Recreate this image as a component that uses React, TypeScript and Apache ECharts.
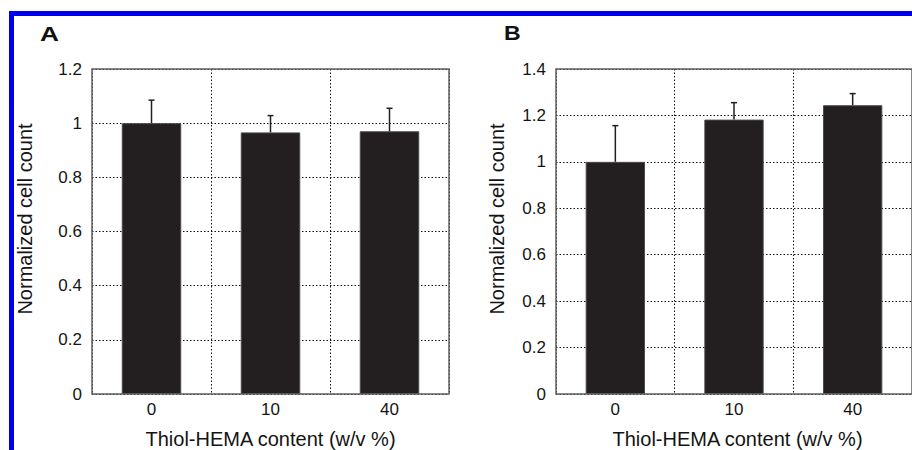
import React, { useEffect, useRef } from "react";
import * as echarts from "echarts";

const categories = ["0", "10", "40"];
const meanA = [1.0, 0.966, 0.97];
const errA = [0.085, 0.062, 0.085];
const meanB = [1.0, 1.182, 1.244];
const errB = [0.156, 0.073, 0.05];
const yMaxA = 1.2;
const yMaxB = 1.4;
const yStep = 0.2;
const xName = "Thiol-HEMA content (w/v %)";
const yName = "Normalized cell count";

const FONT = "'Liberation Sans', Arial, Helvetica, sans-serif";
const BAR = "#231f20";
const GRIDLINE = "#111";
const BORDER = "#5f5f5f";
const TEXT = "#141414";

export default function App() {
  const ref = useRef<HTMLDivElement>(null);
  useEffect(() => {
    if (!ref.current) return;
    const chart = echarts.init(ref.current, undefined, { renderer: "svg" });

    const grids = [
      { left: 92, top: 69, width: 357, height: 325 },
      { left: 556, top: 69, width: 363, height: 325 },
    ];

    const xAxisFor = (gi: number) => ({
      type: "category",
      gridIndex: gi,
      data: categories,
      axisLine: { show: false },
      axisTick: { show: false },
      axisLabel: { color: TEXT, fontFamily: FONT, fontSize: 17, margin: 7 },
      splitLine: { show: true, lineStyle: { color: GRIDLINE, type: [1.5, 2], width: 1 } },
    });
    const yAxisFor = (gi: number, max: number) => ({
      type: "value",
      gridIndex: gi,
      min: 0,
      max,
      interval: yStep,
      axisLine: { show: false },
      axisTick: { show: false },
      axisLabel: { color: TEXT, fontFamily: FONT, fontSize: 17, margin: 10 },
      splitLine: { show: true, lineStyle: { color: GRIDLINE, type: [1.5, 2], width: 1 } },
    });

    const errSeries = (gi: number, mean: number[], err: number[]) => ({
      type: "custom",
      xAxisIndex: gi,
      yAxisIndex: gi,
      z: 5,
      data: categories.map((_, i) => [i, mean[i], mean[i] + err[i]]),
      renderItem: (params: any, api: any) => {
        const i = api.value(0);
        const p0 = api.coord([i, api.value(1)]);
        const p1 = api.coord([i, api.value(2)]);
        const st = { stroke: BAR, lineWidth: 1.5 };
        return {
          type: "group",
          children: [
            { type: "line", shape: { x1: p0[0], y1: p0[1], x2: p1[0], y2: p1[1] }, style: st },
            { type: "line", shape: { x1: p1[0] - 3, y1: p1[1], x2: p1[0] + 3, y2: p1[1] }, style: st },
          ],
        };
      },
    });

    const barSeries = (gi: number, mean: number[]) => ({
      type: "bar",
      xAxisIndex: gi,
      yAxisIndex: gi,
      barWidth: "50%",
      data: mean,
      itemStyle: { color: BAR, borderColor: "#4d4b4b", borderWidth: 1 },
    });

    chart.setOption({
      animation: false,
      backgroundColor: "#ffffff",
      grid: grids.map((g) => ({
        ...g,
        show: true,
        borderColor: BORDER,
        borderWidth: 1.5,
        backgroundColor: "transparent",
        z: 4,
      })),
      xAxis: [xAxisFor(0), xAxisFor(1)],
      yAxis: [yAxisFor(0, yMaxA), yAxisFor(1, yMaxB)],
      series: [
        barSeries(0, meanA),
        errSeries(0, meanA, errA),
        barSeries(1, meanB),
        errSeries(1, meanB, errB),
      ],
      graphic: [
        { type: "rect", shape: { x: 9, y: 11, width: 903, height: 5 }, style: { fill: "#0000ee" } },
        { type: "rect", shape: { x: 9, y: 11, width: 5, height: 439 }, style: { fill: "#0000ee" } },
        {
          type: "text", x: 40, y: 33, scaleX: 1.25,
          style: { text: "A", font: `bold 21px ${FONT}`, fill: "#111", align: "left", verticalAlign: "middle" },
        },
        {
          type: "text", x: 504, y: 33, scaleX: 1.1,
          style: { text: "B", font: `bold 21px ${FONT}`, fill: "#111", align: "left", verticalAlign: "middle" },
        },
        {
          type: "text", x: 25, y: 219, rotation: Math.PI / 2,
          style: { text: yName, font: `20px ${FONT}`, fill: TEXT, align: "center", verticalAlign: "middle" },
        },
        {
          type: "text", x: 497, y: 219, rotation: Math.PI / 2,
          style: { text: yName, font: `20px ${FONT}`, fill: TEXT, align: "center", verticalAlign: "middle" },
        },
        {
          type: "text", x: 270.5, y: 439,
          style: { text: xName, font: `20px ${FONT}`, fill: TEXT, align: "center", verticalAlign: "middle" },
        },
        {
          type: "text", x: 737.5, y: 439,
          style: { text: xName, font: `20px ${FONT}`, fill: TEXT, align: "center", verticalAlign: "middle" },
        },
      ],
    });

    return () => chart.dispose();
  }, []);

  return (
    <div
      ref={ref}
      style={{ position: "absolute", left: 0, top: 0, width: 912, height: 450 }}
    />
  );
}
